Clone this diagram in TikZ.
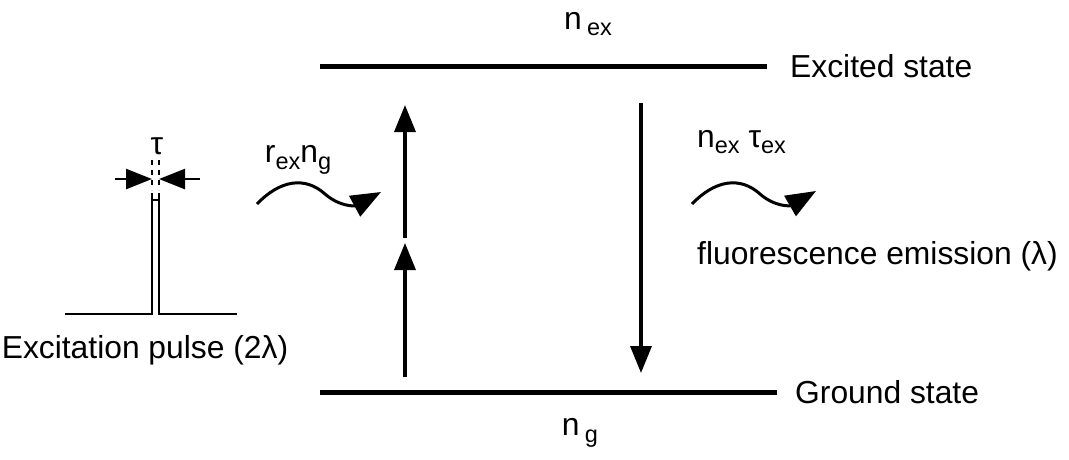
\documentclass[tikz,border=0pt]{standalone}
\usepackage{fontspec}
\setmainfont{Liberation Sans}
\usetikzlibrary{arrows.meta,positioning}
\newcommand{\lowsub}[1]{\raisebox{-0.4ex}{\fontsize{23.5}{23.5}\selectfont #1}}

\begin{document}
\begin{tikzpicture}[x=1pt,y=-1pt,
  lbl/.style={font=\fontsize{31.8}{36}\selectfont,inner sep=0pt},
  level/.style={line width=5pt},
  updown/.style={line width=3.5pt,-{Triangle[length=27pt,width=21pt]}},
  wavy/.style={line width=3pt,-{Triangle[length=30pt,width=23pt]}},
  pulse/.style={line width=2.5pt},
  squeeze/.style={line width=2.5pt,-{Triangle[length=26pt,width=20pt]}}]
\useasboundingbox (0,0) rectangle (1069,459);
% energy levels
\coordinate (exL) at (320,66);
\coordinate (exR) at (767,66);
\coordinate (gL) at (320,392);
\coordinate (gR) at (777,392);
\draw[level] (exL) -- (exR);
\draw[level] (gL) -- (gR);
\node[lbl,anchor=west,right=23pt of exR] (exc) {Excited state};
\node[lbl,anchor=west,right=18pt of gR] (gnd) {Ground state};
\node[lbl] (nex) at (588,24) {n\,\lowsub{ex}};
\node[lbl] (ng) at (580,433) {n\,\lowsub{g}};
% two-photon absorption
\coordinate (a0) at (405,377);
\coordinate (a1) at (405,243);
\coordinate (a2) at (405,238);
\coordinate (a3) at (405,105);
\draw[updown] (a0) -- (a1);
\draw[updown] (a2) -- (a3);
% emission
\coordinate (d0) at (641,103);
\coordinate (d1) at (641,373);
\draw[updown] (d0) -- (d1);
% excitation pulse
\coordinate (bl) at (65,314);
\coordinate (br) at (237,314);
\draw[pulse] (bl) -- (152,314) -- (152,193) (152,200) -- (159,200)
  (159,193) -- (159,314) -- (br);
\draw[pulse,dash pattern=on 5pt off 5pt] (152,160) -- (152,190) (159,160) -- (159,190);
\coordinate (sl) at (115,179);
\coordinate (sr) at (200,179);
\draw[squeeze] (sl) -- (152,179);
\draw[squeeze] (sr) -- (159,179);
\node[lbl] (tau) at (157,146) {τ};
\node[lbl] (pulselbl) at (145,350) {Excitation pulse (2λ)};
% incoming and outgoing light
\coordinate (w0) at (257,204);
\coordinate (w1) at (381,192);
\draw[wavy] (w0) .. controls (280,180) and (305,176) .. (325,194)
  .. controls (340,207) and (355,206) .. (w1);
\node[lbl] (rate) at (298,160) {r\lowsub{ex}n\lowsub{g}};
\coordinate (v0) at (692,204);
\coordinate (v1) at (816,191);
\draw[wavy] (v0) .. controls (715,180) and (740,176) .. (760,194)
  .. controls (775,207) and (790,206) .. (v1);
\node[lbl,anchor=west] (decay) at (697,142) {n\lowsub{ex}\ τ\lowsub{ex}};
\node[lbl,anchor=west] (fluo) at (697,256) {fluorescence emission (λ)};
\end{tikzpicture}
\end{document}
